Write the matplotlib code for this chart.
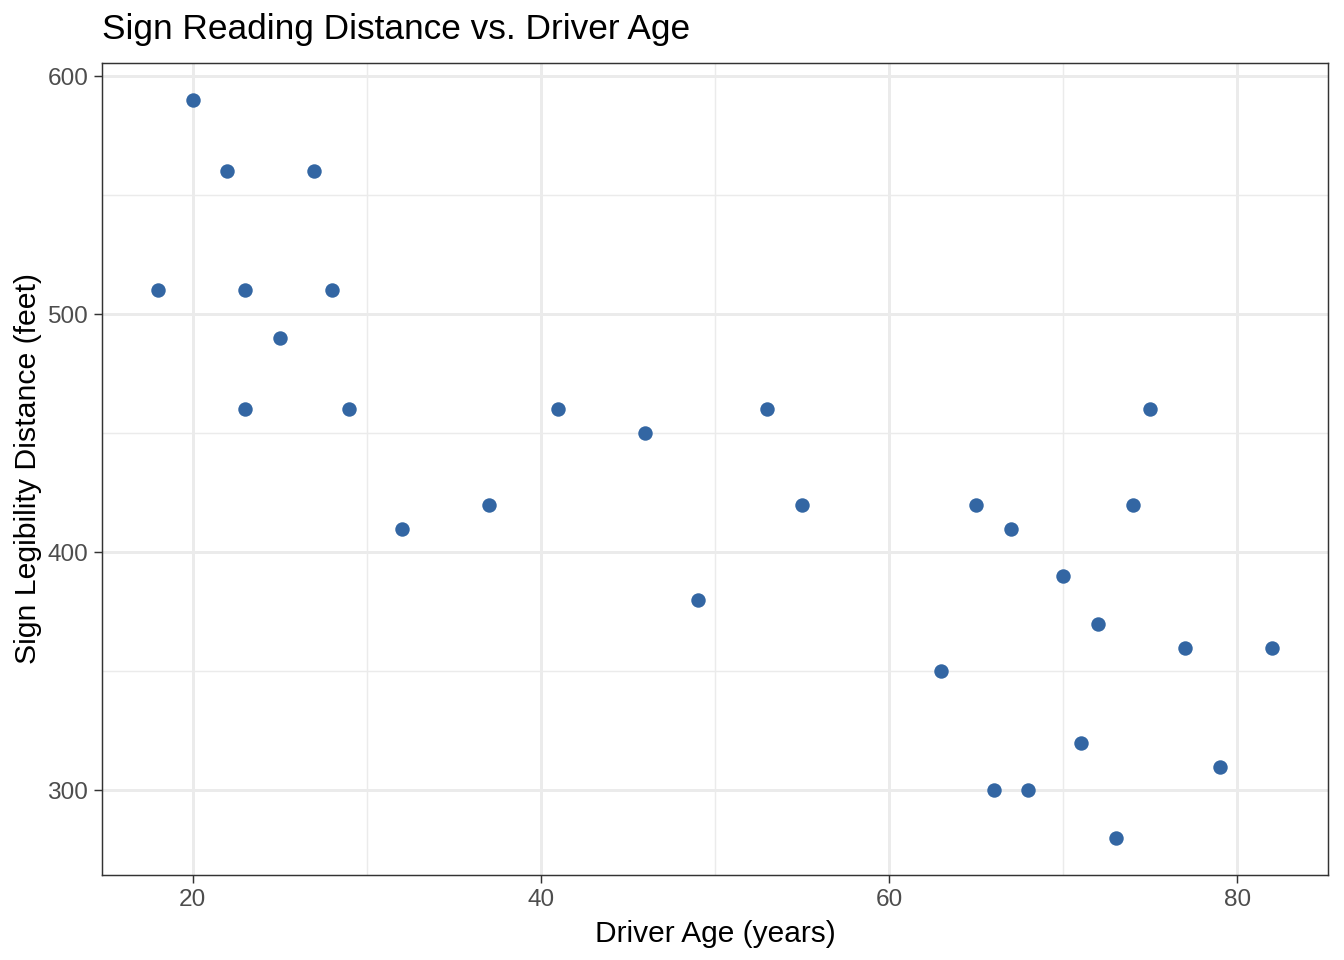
import matplotlib
matplotlib.use("Agg")
import matplotlib.pyplot as plt
from matplotlib.ticker import MultipleLocator

age = [18, 20, 22, 23, 23, 25, 27, 28, 29, 32, 37, 41, 46, 49, 53, 55, 63, 65,
       66, 67, 68, 70, 71, 72, 73, 74, 75, 77, 79, 82]
distance = [510, 590, 560, 510, 460, 490, 560, 510, 460, 410, 420, 460, 450, 380,
            460, 420, 350, 420, 300, 410, 300, 390, 320, 370, 280, 420, 460, 360,
            310, 360]

plt.rcParams['font.family'] = ['Liberation Sans', 'DejaVu Sans']

fig = plt.figure(figsize=(6.72, 4.8), dpi=200)
ax = fig.add_axes([102/1344, 1-875/960, (1328-102)/1344, (875-63)/960])

ax.scatter(age, distance, s=5.2**2, color="#3366a3", linewidths=0, zorder=3)

xr = max(age) - min(age)
yr = max(distance) - min(distance)
ax.set_xlim(min(age) - 0.05*xr, max(age) + 0.05*xr)
ax.set_ylim(min(distance) - 0.05*yr, max(distance) + 0.05*yr)

ax.xaxis.set_major_locator(MultipleLocator(20))
ax.xaxis.set_minor_locator(MultipleLocator(10))
ax.yaxis.set_major_locator(MultipleLocator(100))
ax.yaxis.set_minor_locator(MultipleLocator(50))

ax.grid(which='major', color='#ebebeb', linewidth=1.07, zorder=0)
ax.grid(which='minor', color='#ebebeb', linewidth=0.53, zorder=0)
ax.set_axisbelow(True)

for s in ax.spines.values():
    s.set_color('#333333')
    s.set_linewidth(0.53)

ax.tick_params(which='major', length=2.75, width=0.53, color='#333333',
               labelsize=8.8, labelcolor='#4d4d4d', pad=2.2)
ax.tick_params(which='minor', length=0)

ax.set_xlabel("Driver Age (years)", fontsize=10.75, color='black', labelpad=3.3)
ax.set_ylabel("Sign Legibility Distance (feet)", fontsize=10.9, color='black', labelpad=2)
ax.set_title("Sign Reading Distance vs. Driver Age", fontsize=12.7, loc='left',
             color='black', pad=8.5)

fig.savefig("out.png", dpi=200)
